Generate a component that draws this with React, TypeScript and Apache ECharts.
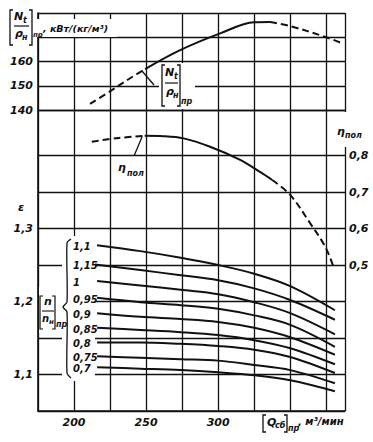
import React, { useEffect, useRef } from "react";
import * as echarts from "echarts";

// ---- axis calibration ----
const Q_MIN = 175;
const Q_MAX = 388;
const N_MIN = 140;
const N_MAX = 180;
const ETA_MIN = 0.1;
const ETA_MAX = 0.9247;
const EPS_MIN = 1.05;
const EPS_MAX = 1.4623;

// ---- tick labels ----
const qTickLabels = [200, 250, 300];
const nTickLabels = [140, 150, 160];
const etaTickLabels = [0.5, 0.6, 0.7, 0.8];
const epsTickLabels = [1.1, 1.2, 1.3];
// horizontal grid lines of the lower panel (η ticks); 0.9 has no line
const etaGridHidden = [0.9];

// ---- power curve [Nt/ρн]пр ----
const nDashedLeft = [[211.1, 142.5], [226.2, 148.2], [238.9, 153.1], [249.3, 156.9]];
const nSolid = [[249.3, 156.9], [273.6, 164.7], [301.4, 171.6], [325, 176.2], [336, 176.3]];
const nDashedRight = [[336, 176.3], [350, 174.6], [375, 170.0], [385.9, 167.5]];

// ---- polytropic efficiency ηпол ----
const etaDashedLeft = [[212.3, 0.838], [231, 0.848], [249, 0.854]];
const etaSolid = [[249, 0.854], [262, 0.853], [276, 0.847], [294.4, 0.824], [315.3, 0.788], [329, 0.755], [337.5, 0.733]];
const etaDashedRight = [[337.5, 0.733], [350, 0.692], [363.9, 0.614], [374.3, 0.55], [380, 0.495]];

// ---- pressure ratio ε for relative speeds [n/nн]пр ----
const speedLabels = ["1,1", "1,15", "1", "0,95", "0,9", "0,85", "0,8", "0,75", "0,7"];
const qPoints = [216, 246, 274, 300, 325, 350, 381];
const eps1 = [1.277, 1.269, 1.26, 1.25, 1.238, 1.221, 1.188];
const eps2 = [1.251, 1.243, 1.236, 1.229, 1.218, 1.202, 1.175];
const eps3 = [1.228, 1.222, 1.216, 1.21, 1.199, 1.184, 1.155];
const eps4 = [1.205, 1.199, 1.195, 1.19, 1.181, 1.168, 1.138];
const eps5 = [1.184, 1.179, 1.176, 1.172, 1.164, 1.151, 1.127];
const eps6 = [1.164, 1.161, 1.158, 1.154, 1.147, 1.136, 1.114];
const eps7 = [1.144, 1.144, 1.142, 1.139, 1.134, 1.124, 1.102];
const eps8 = [1.125, 1.123, 1.121, 1.119, 1.113, 1.106, 1.088];
const eps9 = [1.11, 1.108, 1.106, 1.103, 1.099, 1.092, 1.077];
const epsCurves = [eps1, eps2, eps3, eps4, eps5, eps6, eps7, eps8, eps9];

const FONT = '"DejaVu Sans", sans-serif';
const INK = "#111";
const NONE = "rgba(0,0,0,0)";

const fmt = (v: number) => String(v).replace(".", ",");
const pick = (arr: number[]) => (v: number) => {
  const m = arr.find((a) => Math.abs(a - v) < 1e-6);
  return m === undefined ? "" : fmt(m);
};

const labelStyle = {
  color: INK,
  fontFamily: FONT,
  fontStyle: "italic",
  fontWeight: "bold",
  fontSize: 11,
};

const txt = (text: string, x: number, y: number, size = 11, extra: any = {}) => ({
  type: "text",
  x,
  y,
  z: 110,
  style: {
    text,
    fill: INK,
    fontFamily: FONT,
    fontStyle: "italic",
    fontWeight: "bold",
    fontSize: size,
    verticalAlign: "top",
    ...extra,
  },
});
const pl = (points: number[][], width = 1.3, smooth = 0) => ({
  type: "polyline",
  z: 110,
  shape: { points, smooth },
  style: { stroke: INK, lineWidth: width, fill: "none" },
});
const ln = (x1: number, y1: number, x2: number, y2: number, width = 1.3) => ({
  type: "line",
  z: 110,
  shape: { x1, y1, x2, y2 },
  style: { stroke: INK, lineWidth: width },
});
const white = (x: number, y: number, width: number, height: number) => ({
  type: "rect",
  z: 105,
  shape: { x, y, width, height },
  style: { fill: "#fff" },
});

const solid = { color: INK, width: 2, type: "solid" };
const dashed = { color: INK, width: 2, type: [7, 4] };

function lineSeries(data: number[][], xi: number, yi: number, style: any) {
  return {
    type: "line",
    xAxisIndex: xi,
    yAxisIndex: yi,
    data,
    smooth: 0.35,
    symbol: "none",
    silent: true,
    lineStyle: style,
    z: 5,
  };
}

export default function App() {
  const ref = useRef<HTMLDivElement>(null);

  useEffect(() => {
    const chart = echarts.init(ref.current!, null, { renderer: "svg", width: 373, height: 442 });
    const gridLine = { show: true, lineStyle: { color: INK, width: 1.3 } };

    // one colour per η tick (min, 0.2 ... 0.9, max): hide the 0.9 line
    const etaTicks: number[] = [];
    for (let k = 1; k <= 9; k++) etaTicks.push(Math.round(k) / 10);
    const etaLineColors = [...etaTicks.map((t) => (etaGridHidden.some((h) => Math.abs(h - t) < 1e-6) ? NONE : INK)), INK];

    const epsSeries = epsCurves.map((vals, i) =>
      lineSeries(
        vals.map((v, k) => [i === 1 && k === 0 ? 213 : qPoints[k], v]),
        1,
        1,
        solid
      )
    );

    const option: any = {
      animation: false,
      backgroundColor: "#fff",
      grid: [
        { left: 38, right: 28, top: 13, height: 97 },
        { left: 38, right: 28, top: 110, bottom: 31 },
      ],
      xAxis: [
        {
          gridIndex: 0,
          type: "value",
          min: Q_MIN,
          max: Q_MAX,
          interval: 25,
          axisLine: { show: false },
          axisTick: { show: false },
          axisLabel: { show: false },
          splitLine: gridLine,
        },
        {
          gridIndex: 1,
          type: "value",
          min: Q_MIN,
          max: Q_MAX,
          interval: 25,
          axisLine: { show: true, onZero: false, lineStyle: { color: INK, width: 1.6 } },
          axisTick: { show: false },
          axisLabel: { ...labelStyle, margin: 6, formatter: pick(qTickLabels) },
          splitLine: gridLine,
        },
      ],
      yAxis: [
        {
          gridIndex: 0,
          type: "value",
          min: N_MIN,
          max: N_MAX,
          interval: 10,
          axisLine: { show: true, lineStyle: { color: INK, width: 1.6 } },
          axisTick: { show: false },
          axisLabel: { ...labelStyle, margin: 5, formatter: pick(nTickLabels) },
          splitLine: gridLine,
        },
        {
          gridIndex: 1,
          type: "value",
          position: "left",
          min: EPS_MIN,
          max: EPS_MAX,
          interval: 0.05,
          axisLine: { show: true, onZero: false, lineStyle: { color: INK, width: 1.6 } },
          axisTick: { show: false },
          axisLabel: { ...labelStyle, margin: 5, formatter: pick(epsTickLabels) },
          splitLine: { show: false },
        },
        {
          gridIndex: 1,
          type: "value",
          position: "right",
          min: ETA_MIN,
          max: ETA_MAX,
          interval: 0.1,
          axisLine: { show: false },
          axisTick: { show: false },
          axisLabel: { ...labelStyle, margin: 4, formatter: pick(etaTickLabels) },
          splitLine: { show: true, lineStyle: { color: etaLineColors, width: 1.3 } },
        },
      ],
      series: [
        lineSeries(nDashedLeft, 0, 0, dashed),
        lineSeries(nSolid, 0, 0, solid),
        lineSeries(nDashedRight, 0, 0, dashed),
        lineSeries(etaDashedLeft, 1, 2, dashed),
        lineSeries(etaSolid, 1, 2, solid),
        lineSeries(etaDashedRight, 1, 2, dashed),
        ...epsSeries,
      ],
    };
    chart.setOption(option);

    // legend labels placed at the start of each ε curve
    const legendTexts = epsCurves.map((vals, i) => {
      const p = chart.convertToPixel({ xAxisIndex: 1, yAxisIndex: 1 } as any, [qPoints[0], vals[0]]) as number[];
      return txt(speedLabels[i], 73, p[1] + 1.5, 10, { verticalAlign: "middle" });
    });

    const graphic: any[] = [
      // top-left axis title [Nt/ρн]пр, кВт/(кг/м³)
      white(31, 19, 86, 18),
      pl([[13, 10], [10, 10], [10, 45], [13, 45]], 1.3),
      txt("N", 14, 11, 11),
      txt("t", 23, 16, 8),
      ln(14, 26, 29, 26, 1.2),
      txt("ρ", 15, 28, 11),
      txt("н", 22, 33, 8),
      pl([[29, 10], [32, 10], [32, 45], [29, 45]], 1.3),
      txt("пр", 33, 31, 7),
      txt(", кВт/(кг/м³)", 43, 23, 9.5),

      // in-plot label for N curve
      white(159, 63, 36, 46),
      ln(142, 71, 154, 85, 1.3),
      pl([[165, 65], [162, 65], [162, 106], [165, 106]], 1.3),
      txt("N", 165, 67, 11),
      txt("t", 174, 72, 8),
      ln(165, 83, 178, 83, 1.2),
      txt("ρ", 166, 86, 11),
      txt("н", 173, 91, 8),
      pl([[177, 65], [180, 65], [180, 106], [177, 106]], 1.3),
      txt("пр", 181, 97, 8),

      // η curve label
      ln(142, 137, 134, 156, 1.3),
      txt("η", 118, 162, 11),
      txt("пол", 127, 169, 8),

      // right axis title ηпол
      white(341, 112, 8, 35),
      txt("η", 337, 126, 11),
      txt("пол", 345, 131, 8),

      // ε
      txt("ε", 18, 202, 11),

      // [n/nн]пр label
      white(39, 287, 23, 46),
      pl([[43, 296], [40, 296], [40, 329], [43, 329]], 1.2),
      txt("n", 44, 296, 11),
      ln(42, 311, 54, 311, 1.1),
      txt("n", 42, 313, 10),
      txt("н", 49, 318, 7),
      pl([[52, 296], [55, 296], [55, 329], [52, 329]], 1.2),
      txt("пр", 56, 320, 8),

      // legend area with brace
      white(62, 236, 33, 145),
      pl([[71, 239], [67, 243], [67, 302], [63, 307], [67, 312], [67, 373], [71, 378]], 1.3, 0.25),
      ...legendTexts,

      // x axis title [Qсб]пр, м³/мин
      white(262, 413, 84, 22),
      pl([[266, 415], [263, 415], [263, 432], [266, 432]], 1.3),
      txt("Q", 267, 417, 11),
      txt("сб", 275, 421, 8),
      pl([[284, 415], [287, 415], [287, 432], [284, 432]], 1.3),
      txt("пр", 288, 424, 8),
      txt(", м³/мин", 298, 416, 10),
    ];
    chart.setOption({ graphic });

    return () => chart.dispose();
  }, []);

  return (
    <div
      ref={ref}
      style={{ position: "fixed", left: 0, top: 0, width: 373, height: 442, background: "#fff" }}
    />
  );
}
